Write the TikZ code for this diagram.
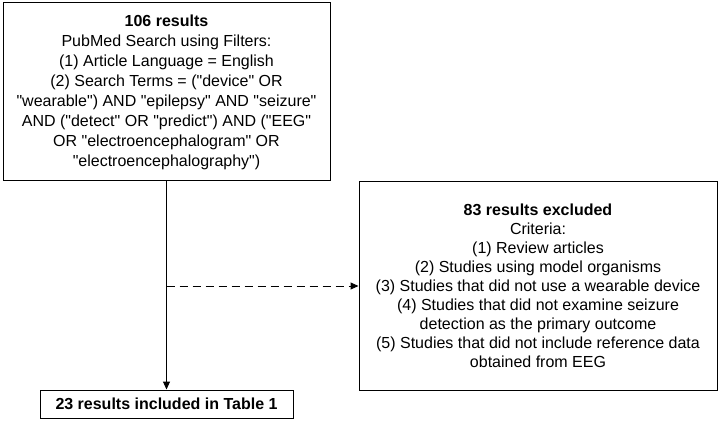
\documentclass[tikz,border=0pt]{standalone}
\usepackage{fontspec}
\setmainfont{Liberation Sans}
\usepackage{tikz}
\usetikzlibrary{arrows.meta,positioning}
\newcommand{\quoted}[1]{\textquotedbl#1\textquotedbl}

\begin{document}
\begin{tikzpicture}[x=1pt, y=-1pt, every node/.style={font=\fontsize{16}{20}\selectfont},
  box/.style={draw, line width=1pt, align=center, inner sep=0pt, fill=white},
  arr/.style={-{Triangle[length=8pt,width=7pt]}, line width=1pt}]
\useasboundingbox (0,0) rectangle (720,422);
\node[box, minimum width=327pt, minimum height=178pt] (search) at (166.5,92) {\textbf{106 results}\\PubMed Search using Filters:\\(1) Article Language = English\\(2) Search Terms = (\quoted{device} OR\\\quoted{wearable}) AND \quoted{epilepsy} AND \quoted{seizure}\\AND (\quoted{detect} OR \quoted{predict}) AND (\quoted{EEG}\\OR \quoted{electroencephalogram} OR\\\quoted{electroencephalography})};
\node[box, minimum width=358pt, minimum height=208pt, font=\fontsize{16}{19}\selectfont] (excl) at (538,286) {\textbf{83 results excluded}\\Criteria:\\(1) Review articles\\(2) Studies using model organisms\\(3) Studies that did not use a wearable device\\(4) Studies that did not examine seizure\\detection as the primary outcome\\(5) Studies that did not include reference data\\obtained from EEG};
\node[box, minimum width=253pt, minimum height=28pt] (incl) at (166.5,404) {\textbf{23 results included in Table 1}};
\coordinate (split) at (search.south |- excl.west);
\draw[arr] (search) -- (incl);
\draw[arr, dashed, dash pattern=on 8pt off 5pt] (split) -- (excl);
\end{tikzpicture}
\end{document}
